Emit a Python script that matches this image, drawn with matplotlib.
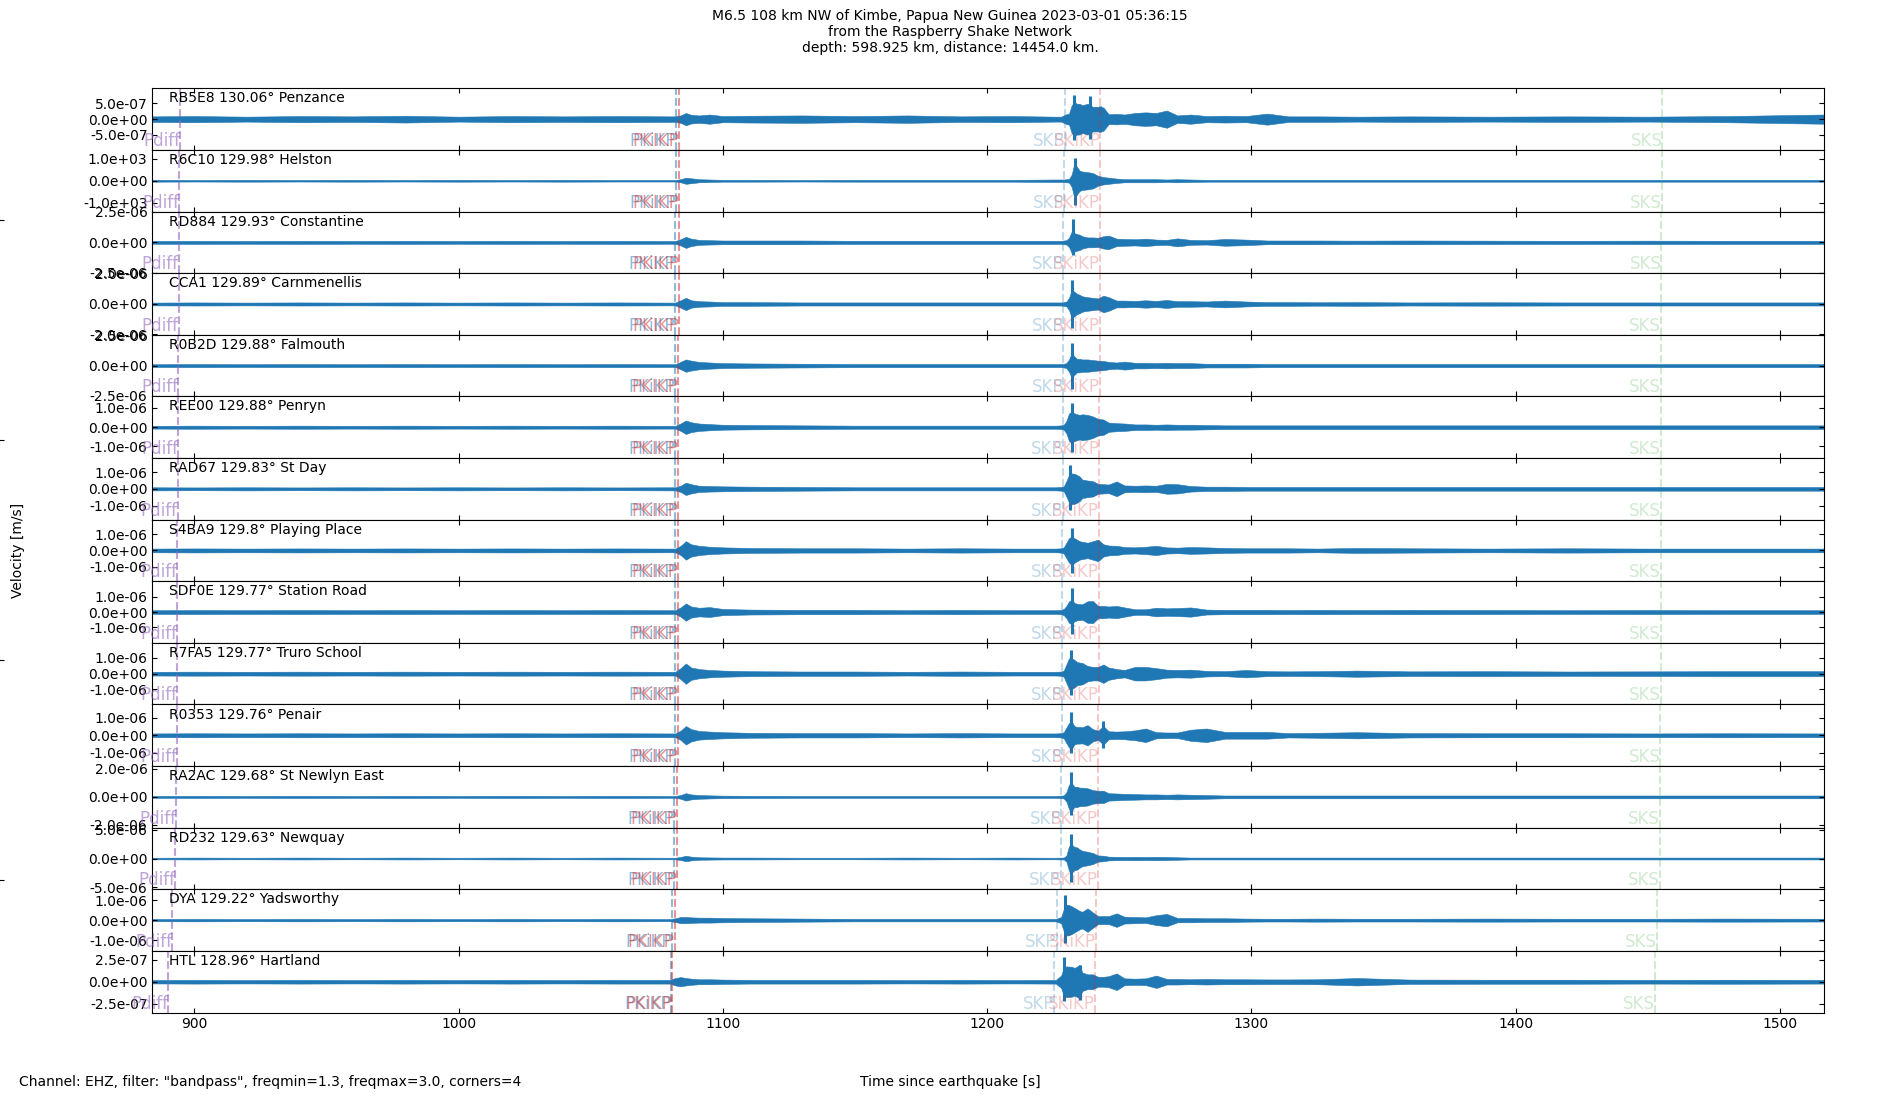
import matplotlib
matplotlib.use('Agg')
import matplotlib.pyplot as plt
import numpy as np
from matplotlib.ticker import FormatStrFormatter

# Stations (top to bottom)
codes = ['RB5E8', 'R6C10', 'RD884', 'CCA1', 'R0B2D', 'REE00', 'RAD67', 'S4BA9',
         'SDF0E', 'R7FA5', 'R0353', 'RA2AC', 'RD232', 'DYA', 'HTL']
dists = [130.06, 129.98, 129.93, 129.89, 129.88, 129.88, 129.83, 129.8,
         129.77, 129.77, 129.76, 129.68, 129.63, 129.22, 128.96]
places = ['Penzance', 'Helston', 'Constantine', 'Carnmenellis', 'Falmouth', 'Penryn',
          'St Day', 'Playing Place', 'Station Road', 'Truro School', 'Penair',
          'St Newlyn East', 'Newquay', 'Yadsworthy', 'Hartland']

# y-limit of each trace panel [m/s] and the labelled tick value
amp_lim = [9.75e-7, 1.41e3, 2.52e-6, 2.02e-6, 2.55e-6, 1.6e-6, 1.84e-6, 1.9e-6,
           2.04e-6, 1.95e-6, 1.78e-6, 2.2e-6, 5.4e-6, 1.54e-6, 3.5e-7]
tick_amp = [5e-7, 1e3, 2.5e-6, 2.0e-6, 2.5e-6, 1e-6, 1e-6, 1e-6,
            1e-6, 1e-6, 1e-6, 2e-6, 5e-6, 1e-6, 2.5e-7]

# trace envelope (fraction of panel limit) read at these times [s]
t_env = [884, 900, 920, 940, 960, 980, 1000, 1020, 1040, 1060,
         1080, 1082, 1084, 1086, 1088, 1091, 1095, 1100, 1110, 1130,
         1150, 1170, 1190, 1210, 1226, 1228, 1229, 1230, 1231, 1232,
         1233, 1234, 1235, 1236, 1238, 1240, 1242, 1244, 1246, 1249,
         1252, 1256, 1260, 1264, 1268, 1272, 1277, 1283, 1290, 1298,
         1306, 1314, 1325, 1340, 1360, 1390, 1420, 1450, 1480, 1517]

env_rb5e8 = [0.09, 0.10, 0.08, 0.10, 0.09, 0.11, 0.08, 0.10, 0.09, 0.10,
             0.09, 0.09, 0.12, 0.20, 0.14, 0.12, 0.15, 0.10, 0.11, 0.12,
             0.10, 0.12, 0.09, 0.10, 0.08, 0.08, 0.12, 0.16, 0.18, 0.45,
             0.55, 0.50, 0.50, 0.45, 0.50, 0.40, 0.40, 0.38, 0.16, 0.17,
             0.15, 0.20, 0.22, 0.20, 0.28, 0.12, 0.15, 0.10, 0.11, 0.10,
             0.18, 0.09, 0.09, 0.08, 0.09, 0.08, 0.09, 0.08, 0.10, 0.15]
env_r6c10 = [0.03, 0.025, 0.03, 0.025, 0.03, 0.025, 0.03, 0.025, 0.03, 0.025,
             0.025, 0.025, 0.05, 0.10, 0.08, 0.05, 0.04, 0.03, 0.03, 0.025,
             0.03, 0.03, 0.03, 0.03, 0.04, 0.04, 0.04, 0.05, 0.06, 0.20,
             0.55, 0.45, 0.33, 0.30, 0.28, 0.25, 0.16, 0.12, 0.10, 0.07,
             0.05, 0.05, 0.05, 0.05, 0.04, 0.05, 0.04, 0.03, 0.03, 0.03,
             0.03, 0.03, 0.03, 0.03, 0.03, 0.03, 0.03, 0.03, 0.03, 0.03]
env_rd884 = [0.045, 0.05, 0.045, 0.05, 0.045, 0.05, 0.045, 0.05, 0.045, 0.05,
             0.045, 0.045, 0.10, 0.18, 0.12, 0.08, 0.07, 0.06, 0.06, 0.06,
             0.05, 0.05, 0.05, 0.05, 0.05, 0.05, 0.06, 0.07, 0.15, 0.35,
             0.30, 0.27, 0.25, 0.20, 0.16, 0.16, 0.15, 0.20, 0.22, 0.12,
             0.11, 0.10, 0.12, 0.09, 0.08, 0.13, 0.08, 0.07, 0.11, 0.09,
             0.06, 0.06, 0.06, 0.055, 0.06, 0.055, 0.05, 0.055, 0.05, 0.05]
env_cca1 = [0.045, 0.05, 0.045, 0.05, 0.045, 0.05, 0.045, 0.05, 0.045, 0.05,
            0.045, 0.045, 0.12, 0.20, 0.12, 0.09, 0.08, 0.06, 0.06, 0.05,
            0.05, 0.05, 0.05, 0.05, 0.05, 0.05, 0.06, 0.08, 0.20, 0.45,
            0.40, 0.33, 0.30, 0.25, 0.22, 0.20, 0.18, 0.27, 0.22, 0.11,
            0.11, 0.10, 0.12, 0.10, 0.13, 0.09, 0.09, 0.08, 0.11, 0.08,
            0.06, 0.06, 0.055, 0.06, 0.05, 0.055, 0.05, 0.05, 0.05, 0.05]
env_r0b2d = [0.045, 0.05, 0.045, 0.05, 0.045, 0.05, 0.045, 0.05, 0.045, 0.05,
             0.045, 0.045, 0.12, 0.20, 0.16, 0.12, 0.10, 0.08, 0.07, 0.06,
             0.05, 0.05, 0.05, 0.05, 0.05, 0.05, 0.06, 0.08, 0.20, 0.40,
             0.30, 0.22, 0.22, 0.20, 0.20, 0.18, 0.16, 0.15, 0.12, 0.10,
             0.13, 0.09, 0.09, 0.08, 0.09, 0.08, 0.08, 0.06, 0.06, 0.06,
             0.05, 0.05, 0.05, 0.05, 0.05, 0.05, 0.05, 0.05, 0.05, 0.05]
env_ree00 = [0.045, 0.05, 0.045, 0.05, 0.045, 0.05, 0.045, 0.05, 0.045, 0.05,
             0.045, 0.045, 0.12, 0.22, 0.16, 0.12, 0.10, 0.08, 0.07, 0.06,
             0.05, 0.05, 0.05, 0.05, 0.05, 0.06, 0.08, 0.20, 0.45, 0.50,
             0.45, 0.42, 0.40, 0.42, 0.40, 0.35, 0.27, 0.25, 0.15, 0.13,
             0.12, 0.09, 0.09, 0.08, 0.09, 0.08, 0.08, 0.07, 0.06, 0.06,
             0.06, 0.06, 0.06, 0.06, 0.06, 0.06, 0.06, 0.06, 0.06, 0.06]
env_rad67 = [0.05, 0.045, 0.05, 0.045, 0.05, 0.045, 0.05, 0.045, 0.05, 0.045,
             0.05, 0.05, 0.10, 0.20, 0.15, 0.10, 0.09, 0.08, 0.07, 0.06,
             0.05, 0.05, 0.05, 0.05, 0.05, 0.06, 0.08, 0.25, 0.45, 0.50,
             0.49, 0.45, 0.40, 0.30, 0.27, 0.25, 0.16, 0.15, 0.14, 0.24,
             0.11, 0.10, 0.11, 0.10, 0.16, 0.15, 0.09, 0.07, 0.07, 0.06,
             0.06, 0.06, 0.06, 0.06, 0.06, 0.06, 0.06, 0.06, 0.06, 0.06]
env_s4ba9 = [0.06, 0.065, 0.06, 0.065, 0.06, 0.065, 0.06, 0.065, 0.06, 0.065,
             0.06, 0.06, 0.15, 0.30, 0.20, 0.15, 0.12, 0.10, 0.08, 0.07,
             0.07, 0.06, 0.07, 0.06, 0.06, 0.07, 0.10, 0.25, 0.40, 0.45,
             0.40, 0.35, 0.30, 0.28, 0.25, 0.30, 0.35, 0.20, 0.16, 0.15,
             0.11, 0.10, 0.12, 0.15, 0.10, 0.09, 0.11, 0.10, 0.08, 0.07,
             0.07, 0.07, 0.06, 0.08, 0.07, 0.06, 0.07, 0.06, 0.06, 0.06]
env_sdf0e = [0.06, 0.065, 0.06, 0.065, 0.06, 0.065, 0.06, 0.065, 0.06, 0.065,
             0.06, 0.06, 0.15, 0.28, 0.18, 0.14, 0.16, 0.10, 0.08, 0.07,
             0.07, 0.06, 0.07, 0.06, 0.06, 0.07, 0.10, 0.20, 0.35, 0.40,
             0.30, 0.27, 0.26, 0.25, 0.35, 0.36, 0.20, 0.20, 0.18, 0.20,
             0.15, 0.09, 0.09, 0.14, 0.12, 0.13, 0.15, 0.08, 0.07, 0.07,
             0.07, 0.065, 0.07, 0.065, 0.07, 0.065, 0.06, 0.065, 0.06, 0.06]
env_r7fa5 = [0.06, 0.065, 0.06, 0.065, 0.06, 0.065, 0.06, 0.065, 0.06, 0.065,
             0.06, 0.06, 0.18, 0.33, 0.20, 0.15, 0.12, 0.10, 0.08, 0.07,
             0.07, 0.06, 0.07, 0.06, 0.06, 0.07, 0.10, 0.30, 0.50, 0.50,
             0.45, 0.38, 0.36, 0.35, 0.25, 0.22, 0.22, 0.30, 0.20, 0.15,
             0.12, 0.22, 0.22, 0.18, 0.13, 0.12, 0.13, 0.09, 0.08, 0.12,
             0.08, 0.075, 0.08, 0.10, 0.075, 0.08, 0.07, 0.075, 0.08, 0.08]
env_r0353 = [0.06, 0.065, 0.06, 0.065, 0.06, 0.065, 0.06, 0.065, 0.06, 0.065,
             0.06, 0.06, 0.15, 0.30, 0.20, 0.14, 0.12, 0.10, 0.08, 0.07,
             0.07, 0.06, 0.07, 0.06, 0.06, 0.07, 0.10, 0.25, 0.40, 0.45,
             0.30, 0.27, 0.27, 0.26, 0.33, 0.20, 0.15, 0.30, 0.13, 0.12,
             0.13, 0.16, 0.22, 0.10, 0.09, 0.09, 0.18, 0.22, 0.11, 0.11,
             0.11, 0.07, 0.08, 0.10, 0.07, 0.065, 0.065, 0.06, 0.065, 0.06]
env_ra2ac = [0.03, 0.035, 0.03, 0.035, 0.03, 0.035, 0.03, 0.035, 0.03, 0.035,
             0.03, 0.03, 0.06, 0.12, 0.08, 0.06, 0.05, 0.04, 0.035, 0.03,
             0.03, 0.03, 0.03, 0.03, 0.03, 0.04, 0.05, 0.15, 0.40, 0.45,
             0.33, 0.33, 0.30, 0.30, 0.28, 0.22, 0.20, 0.20, 0.12, 0.11,
             0.10, 0.09, 0.08, 0.08, 0.07, 0.08, 0.07, 0.06, 0.045, 0.045,
             0.045, 0.045, 0.045, 0.045, 0.045, 0.045, 0.045, 0.045, 0.045, 0.045]
env_rd232 = [0.025, 0.03, 0.025, 0.03, 0.025, 0.03, 0.025, 0.03, 0.025, 0.03,
             0.025, 0.025, 0.05, 0.09, 0.06, 0.04, 0.035, 0.03, 0.03, 0.025,
             0.025, 0.03, 0.025, 0.03, 0.025, 0.03, 0.03, 0.10, 0.40, 0.45,
             0.38, 0.36, 0.30, 0.25, 0.22, 0.18, 0.10, 0.09, 0.06, 0.055,
             0.05, 0.055, 0.05, 0.055, 0.05, 0.04, 0.03, 0.03, 0.03, 0.03,
             0.03, 0.03, 0.03, 0.03, 0.03, 0.03, 0.03, 0.03, 0.03, 0.03]
env_dya = [0.035, 0.04, 0.035, 0.04, 0.035, 0.04, 0.035, 0.04, 0.035, 0.04,
           0.035, 0.06, 0.10, 0.10, 0.09, 0.08, 0.08, 0.07, 0.06, 0.05,
           0.04, 0.04, 0.04, 0.04, 0.04, 0.10, 0.35, 0.50, 0.49, 0.45,
           0.40, 0.35, 0.30, 0.27, 0.38, 0.25, 0.13, 0.13, 0.13, 0.22,
           0.11, 0.10, 0.09, 0.16, 0.20, 0.07, 0.07, 0.06, 0.06, 0.05,
           0.045, 0.045, 0.05, 0.045, 0.045, 0.05, 0.045, 0.045, 0.05, 0.045]
env_htl = [0.055, 0.06, 0.055, 0.06, 0.055, 0.06, 0.055, 0.06, 0.055, 0.06,
           0.06, 0.12, 0.15, 0.12, 0.10, 0.08, 0.08, 0.07, 0.06, 0.06,
           0.06, 0.055, 0.06, 0.055, 0.06, 0.20, 0.45, 0.50, 0.49, 0.49,
           0.45, 0.49, 0.55, 0.30, 0.24, 0.24, 0.16, 0.16, 0.18, 0.27,
           0.11, 0.10, 0.11, 0.20, 0.09, 0.09, 0.08, 0.09, 0.08, 0.08,
           0.075, 0.075, 0.08, 0.12, 0.07, 0.065, 0.065, 0.06, 0.065, 0.06]

envs = [env_rb5e8, env_r6c10, env_rd884, env_cca1, env_r0b2d, env_ree00, env_rad67,
        env_s4ba9, env_sdf0e, env_r7fa5, env_r0353, env_ra2ac, env_rd232, env_dya, env_htl]

# largest swings: (time, up, down) as fraction of panel limit
spikes = [
    [(1232.8, 0.78, 0.68), (1239.1, 0.74, 0.66), (1242.6, 0.42, 0.41)],
    [(1233.2, 0.73, 0.80)],
    [(1232.5, 0.76, 0.42)],
    [(1232.3, 0.78, 0.77)],
    [(1232.2, 0.72, 0.75)],
    [(1232.0, 0.77, 0.80)],
    [(1231.5, 0.76, 0.70)],
    [(1232.1, 0.73, 0.73)],
    [(1232.0, 0.77, 0.70)],
    [(1231.7, 0.78, 0.70)],
    [(1231.8, 0.77, 0.59), (1244.0, 0.47, 0.42)],
    [(1231.6, 0.80, 0.59)],
    [(1231.6, 0.78, 0.75)],
    [(1229.5, 0.80, 0.75)],
    [(1229.2, 0.79, 0.64), (1235.0, 0.55, 0.59)],
]

# predicted phase arrivals per station [s]
phase_names = ['Pdiff', 'PKiKP', 'PKIKP', 'SKP', 'SKiKP', 'SKS']
pdiff_t = [894.6, 894.3, 894.1, 894.0, 893.9, 893.9, 893.7, 893.6,
           893.5, 893.5, 893.4, 893.1, 892.8, 891.7, 890.2]
pkikp_inner_t = [1082.2, 1082.1, 1082.0, 1082.0, 1081.9, 1081.9, 1081.8, 1081.8,
                 1081.7, 1081.7, 1081.7, 1081.5, 1081.4, 1080.7, 1080.3]
pkikp_t = [1083.5, 1083.4, 1083.3, 1083.3, 1083.2, 1083.2, 1083.1, 1083.1,
           1083.0, 1083.0, 1083.0, 1082.8, 1082.7, 1081.7, 1080.9]
skp_t = [1229.4, 1229.1, 1228.8, 1228.7, 1228.7, 1228.6, 1228.6, 1228.4,
         1228.4, 1228.3, 1228.3, 1228.0, 1227.8, 1226.3, 1225.3]
skikp_t = [1242.9, 1242.7, 1242.7, 1242.6, 1242.6, 1242.5, 1242.3, 1242.3,
           1242.2, 1242.2, 1242.1, 1242.0, 1241.9, 1241.2, 1240.8]
sks_t = [1455.5, 1455.3, 1455.2, 1455.1, 1455.1, 1455.1, 1455.0, 1454.9,
         1454.9, 1454.9, 1454.8, 1454.6, 1454.5, 1453.5, 1452.6]
phase_times = [pdiff_t, pkikp_inner_t, pkikp_t, skp_t, skikp_t, sks_t]

phase_colors = ['C4', 'C0', 'C3', 'C0', 'C3', 'C2']
phase_alpha = [0.6, 0.5, 0.5, 0.28, 0.25, 0.22]

fig, axes = plt.subplots(len(codes), 1, sharex=True, figsize=(19, 11), dpi=100)
fig.subplots_adjust(left=0.0802, right=0.960, top=0.9197, bottom=0.0795, hspace=0)

# background axes (only a few stray ticks at the figure edge)
bg = fig.add_axes([0, 0, 1, 1], frameon=False, zorder=-1)
bg.set_xticks([])
bg.set_yticks([0.2, 0.4, 0.6, 0.8])
bg.set_yticklabels([])
bg.tick_params(axis='y', direction='inout', length=6)

for i, ax in enumerate(axes):
    lim = amp_lim[i]
    env = np.array(envs[i]) * lim
    ax.fill_between(t_env, -env, env, color='C0', lw=0.4)
    for ts, up, dn in spikes[i]:
        ax.vlines(ts, -dn * lim, up * lim, color='C0', lw=2.2)

    ax.set_ylim(-lim, lim)
    ax.set_yticks([-tick_amp[i], 0, tick_amp[i]])
    ax.yaxis.set_major_formatter(FormatStrFormatter('%.1e'))
    ax.tick_params(direction='in', top=True, right=True, labelsize=10)

    ax.text(0.01, 0.95, f'{codes[i]} {dists[i]}° {places[i]}', transform=ax.transAxes,
            va='top', fontsize=10)

    for name, times, col, a in zip(phase_names, phase_times, phase_colors, phase_alpha):
        ax.axvline(times[i], color=col, ls='--', lw=1.5, alpha=a)
        ax.text(times[i], -lim, name, color=col, alpha=a, ha='right', va='bottom', fontsize=12)

axes[-1].set_xlim(884.1, 1516.7)
axes[-1].set_xticks(range(900, 1501, 100))

fig.suptitle('M6.5 108 km NW of Kimbe, Papua New Guinea 2023-03-01 05:36:15\n'
             'from the Raspberry Shake Network\n'
             'depth: 598.925 km, distance: 14454.0 km.', y=0.992, fontsize=10)
fig.text(0.0095, 0.5, 'Velocity [m/s]', rotation=90, ha='center', va='center', fontsize=10)
fig.text(0.0102, 0.0164, 'Channel: EHZ, filter: "bandpass", freqmin=1.3, freqmax=3.0, corners=4',
         ha='left', va='center', fontsize=10)
fig.text(0.5, 0.0164, 'Time since earthquake [s]', ha='center', va='center', fontsize=10)

fig.savefig('out.png', dpi=100)
